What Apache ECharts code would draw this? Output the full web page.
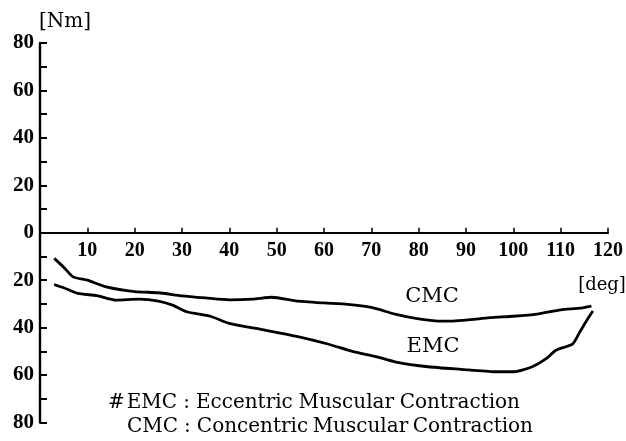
<!DOCTYPE html>
<html>
<head>
<meta charset="utf-8">
<script src="https://cdn.jsdelivr.net/npm/echarts@6/dist/echarts.min.js"></script>
<style>
html,body{margin:0;padding:0;background:#fff;}
#chart{width:626px;height:441px;}
</style>
</head>
<body>
<div id="chart"></div>
<script>
// Joint angle [deg]
var cmcAngle  = [3, 5, 7, 10, 14, 20, 25, 30, 35, 40, 45, 49, 54, 60, 65, 70, 75, 80, 85, 90, 95, 100, 105, 110, 114, 116.5];
// Torque [Nm] (plotted below the zero line)
var cmcTorque = [-10.8, -14.5, -18.6, -20, -22.8, -24.8, -25.3, -26.6, -27.5, -28.3, -28.0, -27.2, -28.7, -29.6, -30.2, -31.5, -34.3, -36.3, -37.3, -36.8, -35.8, -35.2, -34.3, -32.5, -31.8, -30.9];
var emcAngle  = [3, 5, 8, 12, 16, 21, 25, 28, 31, 36, 40, 47, 54, 61, 66, 71, 75, 82, 89, 96, 100, 104, 107, 109, 112.5, 114, 115.5, 116.8];
var emcTorque = [-21.8, -23.2, -25.6, -26.5, -28.4, -28.0, -28.8, -30.5, -33.3, -35.2, -38.2, -40.8, -43.6, -47.0, -50, -52.2, -54.4, -56.5, -57.6, -58.6, -58.6, -56.5, -53, -49.5, -47, -42, -37, -33];
var xTicks = [10, 20, 30, 40, 50, 60, 70, 80, 90, 100, 110, 120];
var yTicks = [80, 60, 40, 20, 0, -20, -40, -60, -80];
var note1 = ['#', 'EMC', ':', 'Eccentric', 'Muscular', 'Contraction'];
var note2 = ['CMC', ':', 'Concentric', 'Muscular', 'Contraction'];

function pairs(xs, ys){ return xs.map(function(x,i){ return [x, ys[i]]; }); }

var serif = '"DejaVu Serif"';
var noteFont = '20px ' + serif;
var mctx = document.createElement('canvas').getContext('2d');
mctx.font = noteFont;

// lay out one footnote row: the first gaps are fixed small ones, the rest share the remaining space
function layRow(items, x0, x1, y, smallGaps){
  var widths = items.map(function(t){ return mctx.measureText(t).width; });
  var sum = widths.reduce(function(a,b){ return a+b; }, 0);
  var small = smallGaps.reduce(function(a,b){ return a+b; }, 0);
  var nBig = items.length - 1 - smallGaps.length;
  var big = Math.max(4, (x1 - x0 - sum - small) / nBig);
  var out = [], x = x0;
  items.forEach(function(t, i){
    out.push({type:'text', style:{text:t, x:x, y:y, align:'left', verticalAlign:'middle', font:noteFont, fill:'#000'}});
    x += widths[i] + (i < smallGaps.length ? smallGaps[i] : big);
  });
  return out;
}

var graphics = [].concat(
  layRow(note1, 108, 520, 403, [2, 6, 6]),
  layRow(note2, 127, 533, 427, [6, 6])
);
graphics.push({type:'text', style:{text:'[Nm]', x:65, y:22, align:'center', verticalAlign:'middle', font:'20px ' + serif, fill:'#000'}});
graphics.push({type:'text', style:{text:'[deg]', x:602, y:285, align:'center', verticalAlign:'middle', font:'18px ' + serif, fill:'#000'}});
graphics.push({type:'text', style:{text:'CMC', x:432, y:297, align:'center', verticalAlign:'middle', font:'21px ' + serif, fill:'#000'}});
graphics.push({type:'text', style:{text:'EMC', x:433, y:347, align:'center', verticalAlign:'middle', font:'21px ' + serif, fill:'#000'}});

var chart = echarts.init(document.getElementById('chart'), null, {renderer:'canvas'});
chart.setOption({
  animation:false,
  backgroundColor:'#fff',
  grid:{left:40, right:15, top:43, bottom:18.5, containLabel:false},
  xAxis:{
    type:'value', min:0, max:120, interval:10,
    offset:-189.75,
    axisLine:{onZero:false, lineStyle:{color:'#000', width:2.2}},
    axisTick:{show:true, inside:true, length:5, lineStyle:{color:'#000', width:1.5}},
    axisLabel:{show:true, margin:8, fontSize:20, fontFamily:'Liberation Serif', fontWeight:'bold', color:'#000',
      formatter:function(v){ return xTicks.indexOf(v) >= 0 ? String(v) : ''; }},
    splitLine:{show:false}
  },
  yAxis:{
    type:'value', min:-80, max:80, interval:10,
    axisLine:{show:true, onZero:false, lineStyle:{color:'#000', width:2.4}},
    axisTick:{show:true, inside:true, length:7, lineStyle:{color:'#000', width:2}},
    axisLabel:{show:true, margin:6, fontSize:21, fontFamily:'Liberation Serif', fontWeight:'bold', color:'#000',
      formatter:function(v){ return yTicks.indexOf(v) >= 0 ? String(Math.abs(v)) : ''; }},
    splitLine:{show:false}
  },
  graphic:graphics,
  series:[
    {type:'line', name:'CMC', data:pairs(cmcAngle, cmcTorque), symbol:'none', smooth:0.2,
     lineStyle:{color:'#000', width:2.8}},
    {type:'line', name:'EMC', data:pairs(emcAngle, emcTorque), symbol:'none', smooth:0.2,
     lineStyle:{color:'#000', width:2.8}}
  ]
});
</script>
</body>
</html>
